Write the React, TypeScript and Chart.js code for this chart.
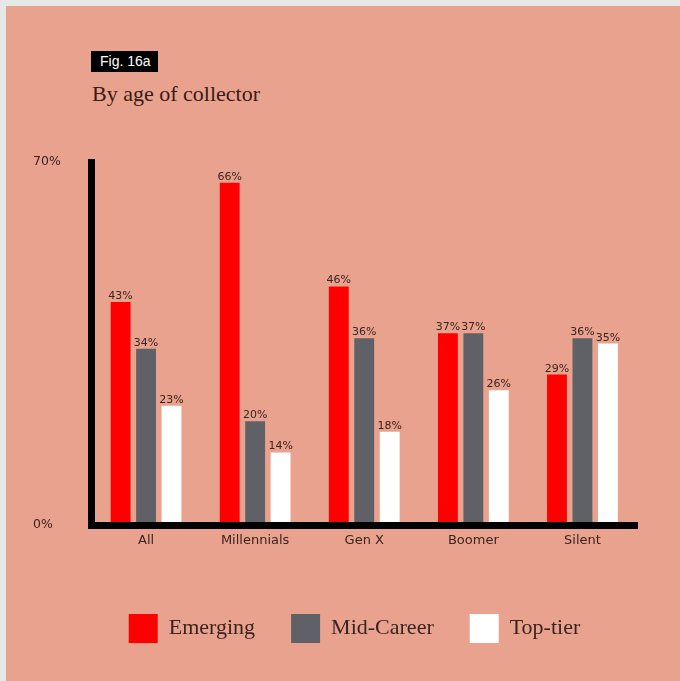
import React, { useEffect, useRef } from "react";
import { Chart, registerables } from "chart.js";

Chart.register(...registerables);

const categories = ["All", "Millennials", "Gen X", "Boomer", "Silent"];
const seriesNames = ["Emerging", "Mid-Career", "Top-tier"];
const emerging = [43, 66, 46, 37, 29];
const midCareer = [34, 20, 36, 37, 36];
const topTier = [23, 14, 18, 26, 35];
const yTickValues = [0, 70];
const seriesColors = ["#ff0000", "#606166", "#ffffff"];

const TEXT_DARK = "#3a2420";

const valueLabels = {
  id: "valueLabels",
  afterDatasetsDraw(chart: any) {
    const ctx = chart.ctx;
    ctx.save();
    ctx.font = '11px "DejaVu Sans"';
    ctx.fillStyle = TEXT_DARK;
    ctx.textAlign = "center";
    ctx.textBaseline = "alphabetic";
    chart.data.datasets.forEach((ds: any, i: number) => {
      const meta = chart.getDatasetMeta(i);
      meta.data.forEach((bar: any, j: number) => {
        ctx.fillText(ds.data[j] + "%", bar.x, bar.y - 3);
      });
    });
    ctx.restore();
  },
};

export default function App() {
  const ref = useRef<HTMLCanvasElement | null>(null);

  useEffect(() => {
    if (!ref.current) return;
    const values = [emerging, midCareer, topTier];
    const chart = new Chart(ref.current, {
      type: "bar",
      data: {
        labels: categories,
        datasets: seriesNames.map((name, i) => ({
          label: name,
          data: values[i],
          backgroundColor: seriesColors[i],
          borderWidth: 0,
          categoryPercentage: 0.7,
          barPercentage: 0.78,
        })),
      },
      options: {
        responsive: false,
        animation: false,
        layout: { padding: { left: 33, right: 4, top: 162, bottom: 28 } },
        plugins: {
          tooltip: { enabled: false },
          title: { display: false },
          legend: {
            position: "bottom",
            labels: {
              boxWidth: 29,
              boxHeight: 29,
              padding: 36,
              color: TEXT_DARK,
              font: { family: "Liberation Serif", size: 22 },
            },
          },
        },
        scales: {
          x: {
            grid: { display: false, drawTicks: false },
            border: { display: true, color: "#000000", width: 7, z: 1 },
            ticks: {
              color: TEXT_DARK,
              padding: 8,
              font: { family: "DejaVu Sans", size: 13 },
            },
            afterFit: (s: any) => {
              s.height = 53;
            },
          },
          y: {
            min: 0,
            max: 70,
            grid: { display: false, drawTicks: false },
            border: { display: true, color: "#000000", width: 7 },
            afterBuildTicks: (s: any) => {
              s.ticks = yTickValues.map((v) => ({ value: v }));
            },
            ticks: {
              color: TEXT_DARK,
              crossAlign: "far",
              font: { family: "DejaVu Sans", size: 12.5 },
              callback: (v: any) => v + "%",
            },
            afterFit: (s: any) => {
              s.width = 58.5;
            },
          },
          yRight: {
            position: "right",
            display: true,
            grid: { display: false, drawTicks: false },
            border: { display: false },
            ticks: { display: false },
            afterFit: (s: any) => {
              s.width = 39;
            },
          },
        },
      },
      plugins: [valueLabels],
    } as any);
    return () => chart.destroy();
  }, []);

  return (
    <div style={{ position: "fixed", inset: 0, background: "#e6e7e7", overflow: "hidden" }}>
      <div
        style={{
          position: "absolute",
          left: 6,
          top: 6,
          right: 0,
          bottom: 0,
          background: "#e9a28e",
        }}
      />
      <div
        style={{
          position: "absolute",
          left: 91,
          top: 51,
          width: 67,
          height: 21,
          boxSizing: "border-box",
          paddingLeft: 9,
          background: "#000000",
          color: "#ffffff",
          font: '14px "Liberation Sans"',
          lineHeight: "21px",
          whiteSpace: "nowrap",
        }}
      >
        Fig. 16a
      </div>
      <div
        style={{
          position: "absolute",
          left: 92,
          top: 83,
          color: "#3a1a14",
          font: '22px "Liberation Serif"',
          lineHeight: "22px",
          whiteSpace: "nowrap",
        }}
      >
        By age of collector
      </div>
      <canvas
        ref={ref}
        width={680}
        height={681}
        style={{ position: "absolute", left: 0, top: 0, width: 680, height: 681 }}
      />
    </div>
  );
}
